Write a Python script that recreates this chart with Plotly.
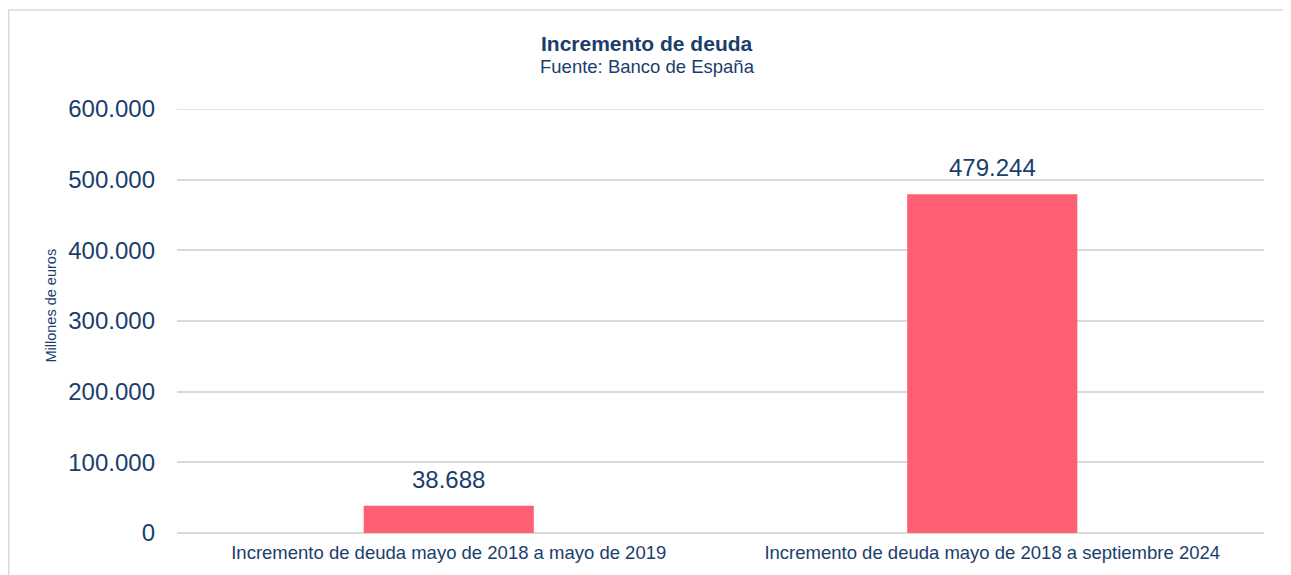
import plotly.graph_objects as go

categories = ["Incremento de deuda mayo de 2018 a mayo de 2019",
              "Incremento de deuda mayo de 2018 a septiembre 2024"]
values = [38688, 479244]
tick_vals = [0, 100000, 200000, 300000, 400000, 500000, 600000]

NAVY = "#1A3E6C"
FONT = "Liberation Sans, Arial, sans-serif"
GRID = "#D9D9D9"

# plot area in figure pixels
L, R, T, B = 169, 1256, 101, 525
PW, PH = R - L, B - T

fig = go.Figure()
fig.add_trace(go.Bar(
    x=categories, y=values, width=0.313,
    marker=dict(color="#FF5F73", line=dict(width=0)),
    hoverinfo="x+y",
))

for c, v in zip(categories, values):
    fig.add_annotation(x=c, y=v, xref="x", yref="y",
                       text=f"{v:,d}".replace(",", "."),
                       showarrow=False, yanchor="bottom", yshift=11,
                       font=dict(size=24, color=NAVY, family=FONT))

fig.update_layout(
    width=1291, height=575,
    margin=dict(l=L, r=1291 - R, t=T, b=575 - B),
    paper_bgcolor="white", plot_bgcolor="white",
    separators=",.",
    showlegend=False,
    font=dict(family=FONT, color=NAVY),
    xaxis=dict(showgrid=False, showline=False, ticks="",
               ticklabelstandoff=6,
               tickfont=dict(size=18.5, color=NAVY, family=FONT)),
    yaxis=dict(range=[0, 600000], tickvals=tick_vals, tickformat=",d",
               showgrid=True, gridcolor=GRID, gridwidth=1.5,
               zeroline=True, zerolinecolor=GRID, zerolinewidth=1.5,
               showline=False, ticks="", ticklabelstandoff=21,
               tickfont=dict(size=24, color=NAVY, family=FONT)),
)

def px(xf):
    return (xf - L) / PW

def py(yf):
    return (B - yf) / PH

# top gridline at the edge of the range
fig.add_shape(type="line", xref="paper", yref="y", x0=0, x1=1,
              y0=tick_vals[-1], y1=tick_vals[-1],
              line=dict(color=GRID, width=1.5), layer="below")

fig.add_annotation(text="<b>Incremento de deuda</b>", xref="paper", yref="paper",
                   x=px(639), y=py(36), xanchor="center", yanchor="middle",
                   showarrow=False, font=dict(size=21, color=NAVY, family=FONT))
fig.add_annotation(text="Fuente: Banco de España", xref="paper", yref="paper",
                   x=px(639), y=py(58), xanchor="center", yanchor="middle",
                   showarrow=False, font=dict(size=18.5, color=NAVY, family=FONT))
fig.add_annotation(text="Millones de euros", xref="paper", yref="paper",
                   x=px(42), y=py(297.5), xanchor="center", yanchor="middle",
                   textangle=-90, showarrow=False,
                   font=dict(size=14.5, color=NAVY, family=FONT))

fig.add_shape(type="rect", xref="paper", yref="paper",
              x0=px(0.75), x1=px(1300),
              y0=py(600), y1=py(2),
              line=dict(color=GRID, width=1.5), layer="below")

fig.write_html("out.html")
